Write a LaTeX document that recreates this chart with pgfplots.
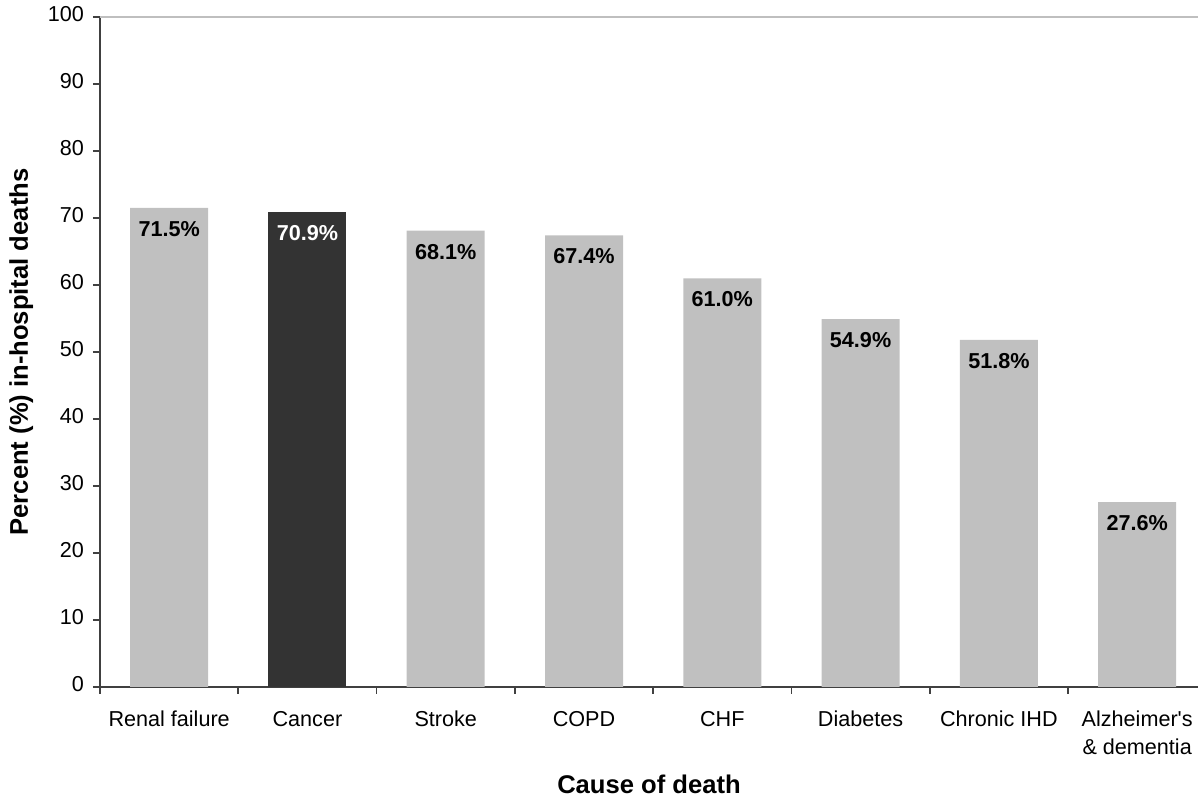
\documentclass[border=0pt]{standalone}
\usepackage{pgfplots}
\pgfplotsset{compat=1.18}
\usepackage{fontspec}
\setmainfont{Liberation Sans}
\definecolor{barlight}{HTML}{C0C0C0}
\definecolor{bardark}{HTML}{333333}
\definecolor{axisgray}{HTML}{404040}
\definecolor{topgray}{HTML}{BFBFBF}
\begin{document}
\begin{tikzpicture}
\begin{axis}[
  scale only axis,
  width=549pt, height=335pt,
  xmin=-0.5, xmax=7.44,
  ymin=0, ymax=100,
  axis x line*=bottom,
  axis y line*=left,
  axis line style={axisgray, line width=0.8pt},
  ytick={0,10,...,100},
  /pgf/number format/assume math mode=true,
  yticklabel style={font=\fontsize{10.8}{12}\selectfont, xshift=-1pt},
  ytick style={axisgray, line width=0.8pt},
  tick align=outside,
  major tick length=3.5pt,
  xtick={0,1,2,3,4,5,6,7},
  xticklabels={Renal failure, Cancer, Stroke, COPD, CHF, Diabetes, Chronic IHD, {Alzheimer\textquotesingle s\\\& dementia}},
  typeset ticklabels with strut,
  x tick style={draw=none},
  xticklabel style={font=\fontsize{10.8}{14}\selectfont, align=center, anchor=north, yshift=-3pt},
  extra x ticks={-0.5,0.5,1.5,2.5,3.5,4.5,5.5,6.5},
  extra x tick labels={},
  extra x tick style={x tick style={draw=axisgray, line width=0.8pt}, major tick length=3.5pt},
  ylabel={Percent (\%) in-hospital deaths},
  xlabel={Cause of death},
  label style={font=\fontsize{12.8}{14}\selectfont\bfseries},
  ylabel style={at={(axis description cs:-0.0718,0.5)}, anchor=center},
  xlabel style={at={(axis description cs:0.5,-0.1448)}, anchor=center},
  nodes near coords,
  nodes near coords style={font=\fontsize{10.8}{12}\selectfont\bfseries, anchor=north, yshift=-3.2pt},
  point meta=explicit symbolic,
  clip=false,
]
\draw[topgray, line width=0.8pt] (rel axis cs:0,1) -- (rel axis cs:1,1);
\addplot[ybar, bar width=39pt, bar shift=0pt, fill=barlight, draw=none, nodes near coords style={text=black}]
  coordinates {(0,71.5) [71.5\%] (2,68.1) [68.1\%] (3,67.4) [67.4\%] (4,61.0) [61.0\%] (5,54.9) [54.9\%] (6,51.8) [51.8\%] (7,27.6) [27.6\%]};
\addplot[ybar, bar width=39pt, bar shift=0pt, fill=bardark, draw=none, nodes near coords style={text=white}]
  coordinates {(1,70.9) [70.9\%]};
\end{axis}
\pgfresetboundingbox
\useasboundingbox (-50pt,-54.5pt) rectangle (549pt,343.5pt);
\end{tikzpicture}
\end{document}
